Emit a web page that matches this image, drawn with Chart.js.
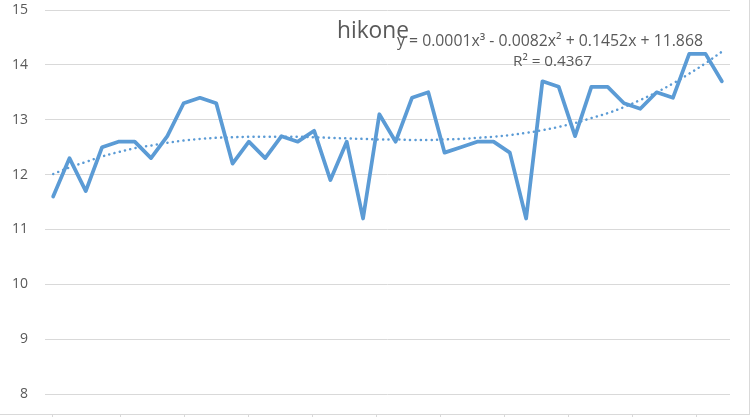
<!DOCTYPE html>
<html>
<head>
<meta charset="utf-8">
<script src="https://cdn.jsdelivr.net/npm/chart.js@4.4.0/dist/chart.umd.min.js"></script>
<style>
  html, body { margin: 0; padding: 0; background: #fff; }
</style>
</head>
<body>
<canvas id="grafico" width="751" height="417"></canvas>
<script>
// dados
const titulo = 'hikone';
const equacao = 'y = 0.0001x³ - 0.0082x² + 0.1452x + 11.868';
const textoR2 = 'R² = 0.4367';

const categorias = [1, 2, 3, 4, 5, 6, 7, 8, 9, 10, 11, 12, 13, 14, 15, 16, 17, 18, 19, 20, 21,
  22, 23, 24, 25, 26, 27, 28, 29, 30, 31, 32, 33, 34, 35, 36, 37, 38, 39, 40, 41, 42];

const valores = [11.6, 12.3, 11.7, 12.5, 12.6, 12.6, 12.3, 12.7, 13.3, 13.4,
  13.3, 12.2, 12.6, 12.3, 12.7, 12.6, 12.8, 11.9, 12.6, 11.2,
  13.1, 12.6, 13.4, 13.5, 12.4, 12.5, 12.6, 12.6, 12.4, 11.2,
  13.7, 13.6, 12.7, 13.6, 13.6, 13.3, 13.2, 13.5, 13.4, 14.2, 14.2, 13.7];

// linha de tendencia (pontilhada), lida ponto a ponto
const tendencia = [12.01, 12.13, 12.23, 12.33, 12.41, 12.48, 12.53, 12.58, 12.62, 12.65,
  12.67, 12.68, 12.69, 12.69, 12.69, 12.69, 12.68, 12.67, 12.66, 12.65,
  12.64, 12.64, 12.63, 12.63, 12.64, 12.65, 12.67, 12.69, 12.72, 12.76,
  12.81, 12.87, 12.94, 13.03, 13.12, 13.23, 13.36, 13.50, 13.66, 13.84, 14.03, 14.24];

const ticksY = [8, 9, 10, 11, 12, 13, 14, 15];
// marcas do eixo de baixo (a primeira fica um pouco mais perto da segunda)
const marcasX = [-0.0625, 1, 2, 3, 4, 5, 6, 7, 8, 9, 10];

const azul = '#5B9BD5';
const cinza = '#595959';
const grade = '#d9d9d9';

// escreve o texto ajustando o tamanho da fonte para a largura
function textoLargura(ctx, texto, x, y, largura) {
  ctx.font = '20px "Open Sans"';
  const tam = 20 * largura / ctx.measureText(texto).width;
  ctx.font = tam.toFixed(2) + 'px "Open Sans"';
  ctx.fillText(texto, x, y);
}

const extras = {
  id: 'extras',
  beforeDraw(chart) {
    const { ctx, chartArea } = chart;
    ctx.save();
    ctx.strokeStyle = grade;
    ctx.lineWidth = 1;
    ctx.beginPath();
    ctx.moveTo(0, chartArea.bottom + 0.5);
    ctx.lineTo(chart.width - 1, chartArea.bottom + 0.5);
    ctx.moveTo(chart.width - 1.5, 0);
    ctx.lineTo(chart.width - 1.5, chartArea.bottom);
    ctx.stroke();
    ctx.restore();
  },
  afterDraw(chart) {
    const ctx = chart.ctx;
    ctx.save();
    ctx.fillStyle = cinza;
    ctx.textBaseline = 'alphabetic';
    textoLargura(ctx, titulo, 337, 38, 72);
    textoLargura(ctx, equacao, 397, 46, 306);
    textoLargura(ctx, textoR2, 513, 66, 79);
    ctx.restore();
  }
};

new Chart(document.getElementById('grafico'), {
  type: 'line',
  data: {
    datasets: [
      {
        label: 'tendencia',
        data: categorias.map((c, i) => ({ x: c, y: tendencia[i] })),
        borderColor: azul,
        borderWidth: 2.5,
        borderDash: [0.1, 5.3],
        borderCapStyle: 'round',
        pointRadius: 0,
        fill: false,
        tension: 0.4,
        order: 0
      },
      {
        label: titulo,
        data: categorias.map((c, i) => ({ x: c, y: valores[i] })),
        borderColor: azul,
        borderWidth: 3.75,
        borderJoinStyle: 'round',
        borderCapStyle: 'round',
        pointRadius: 0,
        fill: false,
        tension: 0,
        order: 1
      }
    ]
  },
  options: {
    responsive: false,
    animation: false,
    layout: { autoPadding: false, padding: { left: 0, right: 21, top: 10, bottom: 0 } },
    plugins: {
      legend: { display: false },
      title: { display: false },
      tooltip: { enabled: false }
    },
    scales: {
      x: {
        type: 'linear',
        display: false,
        min: 0.5,
        max: categorias.length + 0.5
      },
      xt: {
        type: 'linear',
        position: 'bottom',
        min: -0.1766,
        max: 10.5266,
        afterBuildTicks: (s) => { s.ticks = marcasX.map(v => ({ value: v })); },
        afterFit: (s) => { s.height = 3; s.paddingLeft = 0; s.paddingRight = 0; },
        ticks: { display: false },
        grid: { drawOnChartArea: false, drawTicks: true, tickLength: 3, color: grade },
        border: { display: false }
      },
      y: {
        min: 7.636,
        max: ticksY[ticksY.length - 1],
        afterBuildTicks: (s) => { s.ticks = ticksY.map(v => ({ value: v })); },
        afterFit: (s) => { s.width = 45; s.paddingTop = 0; s.paddingBottom = 0; },
        ticks: {
          color: cinza,
          padding: 0,
          font: { family: '"Open Sans"', size: 14 }
        },
        grid: { color: grade, drawTicks: true, tickLength: 17, tickColor: 'rgba(0,0,0,0)' },
        border: { display: false }
      }
    }
  },
  plugins: [extras]
});
</script>
</body>
</html>
